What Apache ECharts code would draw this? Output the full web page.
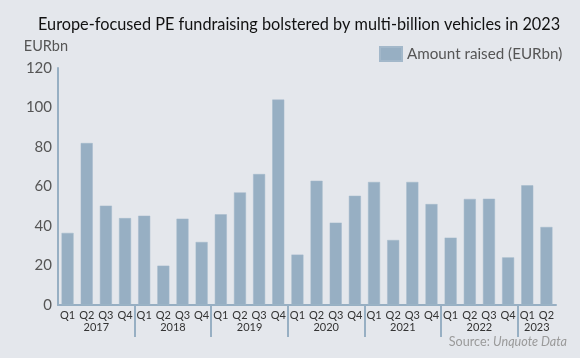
<!DOCTYPE html>
<html><head><meta charset="utf-8">
<script src="https://cdn.jsdelivr.net/npm/echarts@6/dist/echarts.min.js"></script>
<style>html,body{margin:0;padding:0;background:#e4e7ec;}#c{width:580px;height:358px;}</style>
</head><body><div id="c"></div>
<script>
const quarters = ['Q1','Q2','Q3','Q4','Q1','Q2','Q3','Q4','Q1','Q2','Q3','Q4','Q1','Q2','Q3','Q4','Q1','Q2','Q3','Q4','Q1','Q2','Q3','Q4','Q1','Q2'];
const amounts = [36.5,82,50.3,44,45.2,19.9,43.7,31.9,45.9,57,66.3,104,25.5,62.9,41.7,55.3,62.3,32.9,62.3,51.1,34.1,53.7,53.8,24.1,60.6,39.5];
const years = ['2017','2018','2019','2020','2021','2022','2023'];
const quartersPerYear = [4,4,4,4,4,4,2];
const yTicks = [0,20,40,60,80,100,120];

const bounds = [], centers = [];
let acc = 0;
quartersPerYear.forEach((n, i) => {
  centers.push(acc + n / 2);
  acc += n;
  if (i < quartersPerYear.length - 1) bounds.push(acc);
});
const centerYear = {};
centers.forEach((c, i) => centerYear[c] = years[i]);

const chart = echarts.init(document.getElementById('c'));
chart.setOption({
  backgroundColor: '#e4e7ec',
  animation: false,
  textStyle: { fontFamily: 'Lato' },
  title: [{
    text: 'Europe-focused PE fundraising bolstered by multi-billion vehicles in 2023',
    left: 33, top: 12,
    textStyle: { fontFamily: 'Lato', fontSize: 16.3, fontWeight: 'normal', color: '#111' }
  }, {
    text: '{a|Source: }{b|Unquote Data}',
    right: 8, bottom: 5,
    textStyle: { fontWeight: 'normal', rich: {
      a: { fontFamily: 'Lato', fontSize: 12.6, color: '#9a9a9a', fontWeight: 'normal' },
      b: { fontFamily: 'Lato', fontSize: 12.6, color: '#9a9a9a', fontStyle: 'italic', fontWeight: 'normal' }
    } }
  }],
  legend: {
    data: ['Amount raised (EURbn)'],
    left: 374, top: 41,
    itemWidth: 22, itemHeight: 14, itemGap: 6,
    icon: 'rect',
    textStyle: { fontFamily: 'Lato', fontSize: 15.2, color: '#555' }
  },
  grid: { left: 58, right: 24, top: 68, bottom: 53, containLabel: false },
  xAxis: [{
    type: 'category',
    data: quarters,
    axisLine: { lineStyle: { color: '#97afc3', width: 2 } },
    axisTick: { show: false },
    axisLabel: { interval: 0, fontFamily: 'Lato', fontSize: 11, color: '#333', margin: 5 }
  }, {
    type: 'value',
    position: 'bottom',
    min: 0, max: quarters.length,
    axisLine: { show: false },
    splitLine: { show: false },
    axisTick: { show: true, customValues: bounds, length: 32, lineStyle: { color: '#97afc3', width: 2 } },
    axisLabel: {
      customValues: centers,
      formatter: v => centerYear[v] || '',
      fontFamily: 'Lato', fontSize: 11, color: '#333', margin: 17
    }
  }],
  yAxis: {
    type: 'value',
    min: 0, max: 120, interval: 20,
    name: 'EURbn',
    nameLocation: 'end',
    nameGap: 14,
    nameTextStyle: { fontFamily: 'Lato', fontSize: 14.5, color: '#555', align: 'right', padding: [0, -10, 0, 0] },
    axisLine: { show: true, lineStyle: { color: '#97afc3', width: 2 } },
    axisTick: { show: false },
    splitLine: { show: false },
    axisLabel: { fontFamily: 'Lato', fontSize: 15, color: '#555', margin: 6,
      formatter: v => yTicks.includes(v) ? String(v) : '' }
  },
  series: [{
    name: 'Amount raised (EURbn)',
    type: 'bar',
    data: amounts,
    barWidth: 12,
    itemStyle: { color: '#97afc3', borderColor: '#a3b8ca', borderWidth: 0.5 }
  }]
});
</script></body></html>
